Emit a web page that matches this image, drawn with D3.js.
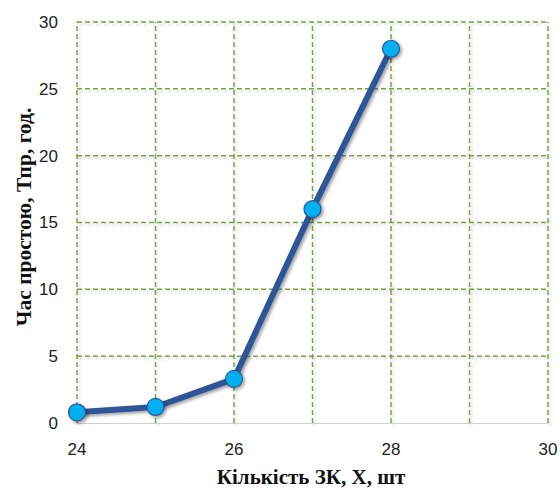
<!DOCTYPE html>
<html><head><meta charset="utf-8">
<script src="https://cdn.jsdelivr.net/npm/d3@7"></script>
<style>body{margin:0;background:#fff}</style>
</head><body>
<script>
const xValues = [24, 25, 26, 27, 28];
const yValues = [0.8, 1.2, 3.3, 16, 28];
const xTicks = [24, 26, 28, 30];
const yTicks = [0, 5, 10, 15, 20, 25, 30];
const xGrid = [24, 25, 26, 27, 28, 29, 30];
const xTitle = "Кількість ЗК, Х, шт";
const yTitle = "Час простою, Тпр, год.";

const W = 560, H = 490;
const svg = d3.select("body").append("svg").attr("width", W).attr("height", H);
const defs = svg.append("defs");
const f = defs.append("filter").attr("id","sh").attr("x","-50%").attr("y","-50%").attr("width","200%").attr("height","200%");
f.append("feDropShadow").attr("dx",2).attr("dy",2).attr("stdDeviation",1.8).attr("flood-color","#000").attr("flood-opacity",0.35);
const g2 = defs.append("filter").attr("id","gsh").attr("x","-10%").attr("y","-10%").attr("width","120%").attr("height","120%");
g2.append("feDropShadow").attr("dx",2).attr("dy",2).attr("stdDeviation",1.5).attr("flood-color","#000").attr("flood-opacity",0.18);

const x = d3.scaleLinear().domain([24, 30]).range([77, 548]);
const y = d3.scaleLinear().domain([0, 30]).range([423, 22]);

const grid = svg.append("g").attr("filter","url(#gsh)");
grid.selectAll(".hg").data(yTicks.filter(d => d > 0)).join("line")
  .attr("x1", x(24)).attr("x2", x(30)).attr("y1", d => y(d)).attr("y2", d => y(d))
  .attr("stroke", "#77a346").attr("stroke-width", 1.5).attr("stroke-dasharray", "5,3");
grid.selectAll(".vg").data(xGrid).join("line")
  .attr("x1", d => x(d)).attr("x2", d => x(d)).attr("y1", y(0)).attr("y2", y(30))
  .attr("stroke", "#77a346").attr("stroke-width", 1.5).attr("stroke-dasharray", "5,3");

svg.append("line").attr("x1", x(24)).attr("x2", x(30)).attr("y1", y(0)+0.5).attr("y2", y(0)+0.5)
  .attr("stroke", "#d0d0d0").attr("stroke-width", 1);

const font = "'Liberation Sans Narrow', 'Liberation Sans', Arial, sans-serif";
svg.selectAll(".yt").data(yTicks).join("text")
  .attr("x", 58).attr("y", d => y(d)).attr("dy", "0.35em").attr("text-anchor", "end")
  .attr("font-family", font).attr("font-size", 17).attr("fill", "#222").text(d => d);
svg.selectAll(".xt").data(xTicks).join("text")
  .attr("x", d => x(d)).attr("y", 455).attr("text-anchor", "middle")
  .attr("font-family", font).attr("font-size", 17).attr("fill", "#222").text(d => d);

const pts = xValues.map((v, i) => [v, yValues[i]]);
svg.append("path").datum(pts)
  .attr("d", d3.line().x(d => x(d[0])).y(d => y(d[1])))
  .attr("fill", "none").attr("stroke", "#2f5597").attr("stroke-width", 6)
  .attr("stroke-linejoin", "round").attr("filter", "url(#sh)");
svg.selectAll(".pt").data(pts).join("circle")
  .attr("cx", d => x(d[0])).attr("cy", d => y(d[1])).attr("r", 8.5)
  .attr("fill", "#00b0f0").attr("stroke", "#2f5597").attr("stroke-width", 1.2)
  .attr("filter", "url(#sh)");

const tfont = "'Liberation Serif', 'Times New Roman', serif";
svg.append("text").attr("x", 311).attr("y", 484).attr("text-anchor", "middle")
  .attr("font-family", tfont).attr("font-weight", "bold").attr("font-size", 21).attr("fill", "#111").text(xTitle);
svg.append("text").attr("transform", "translate(31,217) rotate(-90)").attr("text-anchor", "middle")
  .attr("font-family", tfont).attr("font-weight", "bold").attr("font-size", 21.5).attr("fill", "#111").text(yTitle);
</script>
</body></html>
